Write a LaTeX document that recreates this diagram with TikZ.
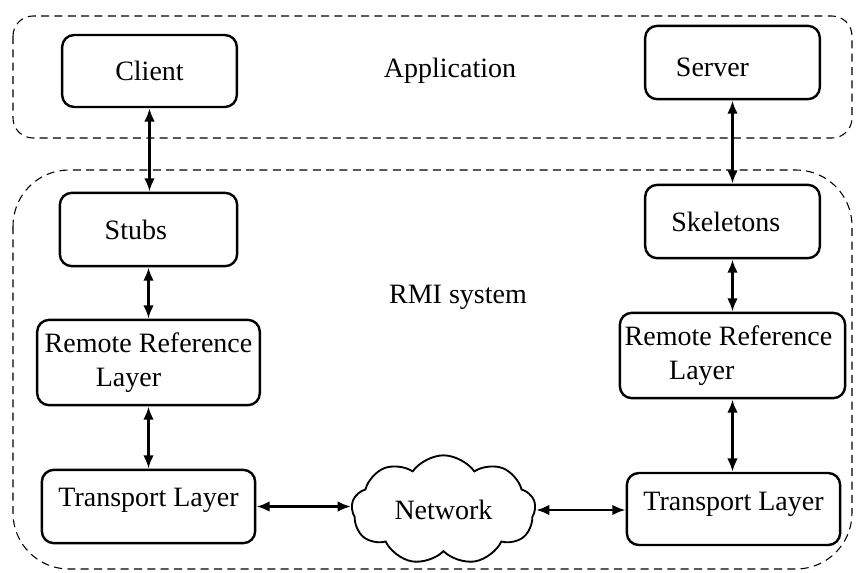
\documentclass[tikz,border=0pt]{standalone}
\usepackage{fontspec}
\setmainfont{Liberation Serif}
\usetikzlibrary{arrows.meta,shapes.symbols}
\begin{document}
\begin{tikzpicture}[x=0.75pt,y=-0.75pt,
  box/.style={draw, line width=1.8pt, rounded corners=9pt, align=center, inner sep=0pt,
    font=\fontsize{21}{25}\selectfont},
  conn/.style={line width=2pt, {Latex[length=10pt,width=8pt]}-{Latex[length=10pt,width=8pt]}},
  zone/.style={draw, line width=0.8pt, dash pattern=on 6pt off 4pt},
  lbl/.style={font=\fontsize{21}{25}\selectfont}]
\useasboundingbox (0,0) rectangle (856,572);
% zones
\draw[zone, rounded corners=15pt] (13,16) rectangle (852,138);
\draw[zone, rounded corners=42pt] (13,170) rectangle (852,569);
\node[lbl] (app) at (450,71) {Application};
\node[lbl] (rmi) at (458,297) {RMI system};
% boxes
\node[box, minimum width=131pt, minimum height=54pt] (client) at (149.5,71) {Client};
\node[box, minimum width=131pt, minimum height=55pt, text height=21pt, text depth=0pt] (server) at (732.5,62.5) {Server\hspace*{30pt}};
\node[box, minimum width=133pt, minimum height=55pt] (stubs) at (148.5,229.5) {Stubs\hspace*{19pt}};
\node[box, minimum width=131pt, minimum height=55pt] (skel) at (732.5,221.5) {Skeletons\hspace*{10pt}};
\node[box, minimum width=167pt, minimum height=64pt] (rrlL) at (148.5,362.5) {Remote Reference\\Layer\hspace*{30pt}};
\node[box, minimum width=169pt, minimum height=64pt] (rrlR) at (732.5,355.5) {Remote Reference\hspace*{6pt}\\Layer\hspace*{46pt}};
\node[box, minimum width=160pt, minimum height=55pt, text depth=14pt] (tlL) at (148.5,506.5) {Transport Layer};
\node[box, minimum width=160pt, minimum height=54pt, text depth=12pt] (tlR) at (733.5,509) {Transport Layer};
\node[cloud, draw, line width=1.4pt, cloud puffs=9, cloud puff arc=110, aspect=1.7,
  minimum width=138pt, minimum height=82pt, inner sep=0pt, lbl] (net) at (443.5,510) {Network};
% connectors
\draw[conn] (client.south) -- (client.south |- stubs.north);
\draw[conn] (stubs.south) -- (stubs.south |- rrlL.north);
\draw[conn] (rrlL.south) -- (rrlL.south |- tlL.north);
\draw[conn] (server.south) -- (server.south |- skel.north);
\draw[conn] (skel.south) -- (skel.south |- rrlR.north);
\draw[conn] (rrlR.south) -- (rrlR.south |- tlR.north);
\draw[conn] (tlL.east) -- (tlL.east -| net.west);
\draw[conn] (net.east) -- (net.east -| tlR.west);
\end{tikzpicture}
\end{document}
